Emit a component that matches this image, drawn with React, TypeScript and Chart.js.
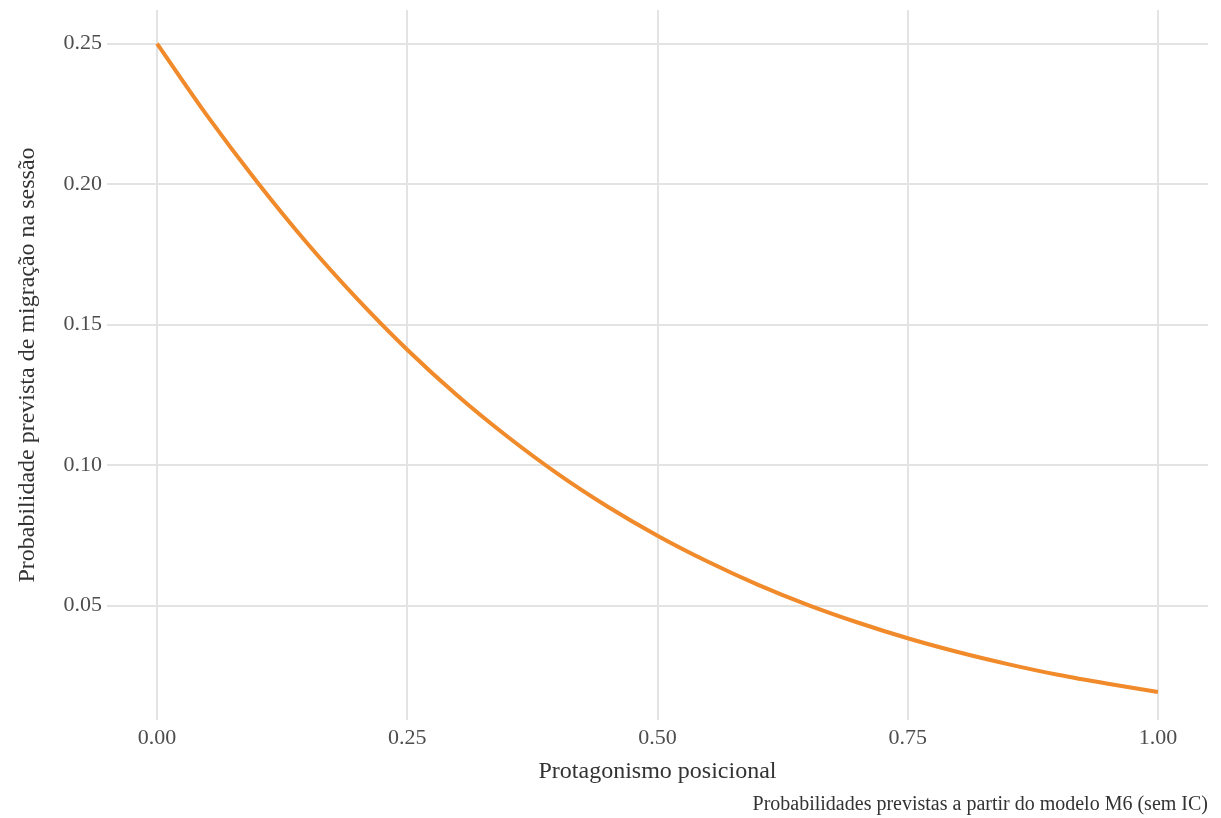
import React, { useEffect, useRef } from "react";
import { Chart, registerables } from "chart.js";

Chart.register(...registerables);

const xValues = [0, 0.05, 0.1, 0.15, 0.2, 0.25, 0.3, 0.35, 0.4, 0.45, 0.5, 0.55, 0.6, 0.65, 0.7, 0.75, 0.8, 0.85, 0.9, 0.95, 1.0];
const probValues = [0.25, 0.2244, 0.2008, 0.179, 0.1592, 0.1411, 0.1248, 0.1102, 0.097, 0.0853, 0.0749, 0.0657, 0.0575, 0.0503, 0.044, 0.0384, 0.0335, 0.0292, 0.0254, 0.0222, 0.0193];
const xTicks = [0, 0.25, 0.5, 0.75, 1.0];
const yTicks = [0.05, 0.1, 0.15, 0.2, 0.25];
const xTitle = "Protagonismo posicional";
const yTitle = "Probabilidade prevista de migração na sessão";
const caption = "Probabilidades previstas a partir do modelo M6 (sem IC)";

const FONT = "'Liberation Serif', 'DejaVu Serif', serif";

export default function App() {
  const ref = useRef<HTMLCanvasElement | null>(null);

  useEffect(() => {
    document.body.style.margin = "0";
    const canvas = ref.current;
    if (!canvas) return;

    const captionPlugin = {
      id: "captionPlugin",
      afterDraw(chart: any) {
        const ctx = chart.ctx;
        ctx.save();
        ctx.font = `20px ${FONT}`;
        ctx.fillStyle = "#333333";
        ctx.textAlign = "right";
        ctx.textBaseline = "middle";
        ctx.fillText(caption, 1208, 805);
        ctx.restore();
      },
    };

    const chart = new Chart(canvas, {
      type: "line",
      data: {
        datasets: [
          {
            data: xValues.map((x, i) => ({ x, y: probValues[i] })),
            borderColor: "#f08a2a",
            borderWidth: 4,
            pointRadius: 0,
            cubicInterpolationMode: "monotone",
            fill: false,
          },
        ],
      },
      options: {
        animation: false,
        responsive: false,
        maintainAspectRatio: false,
        layout: { padding: { top: 10, right: 13, bottom: 0, left: 0 } },
        plugins: {
          legend: { display: false },
          tooltip: { enabled: false },
        },
        scales: {
          x: {
            type: "linear",
            min: -0.05,
            max: 1.05,
            afterBuildTicks: (axis: any) => {
              axis.ticks = xTicks.map((v) => ({ value: v }));
            },
            afterFit: (axis: any) => {
              axis.height = 98;
              axis.paddingLeft = 0;
              axis.paddingRight = 0;
            },
            grid: { color: "#e3e3e3", lineWidth: 2, drawTicks: false },
            border: { display: false },
            ticks: {
              padding: 5,
              color: "#4d4d4d",
              font: { family: FONT, size: 22 },
              callback: (v: any) => Number(v).toFixed(2),
              maxRotation: 0,
            },
            title: {
              display: true,
              text: xTitle,
              color: "#333333",
              font: { family: FONT, size: 24 },
              padding: { top: 0, bottom: 32 },
            },
          },
          y: {
            type: "linear",
            min: 0.0093,
            max: 0.262,
            afterBuildTicks: (axis: any) => {
              axis.ticks = yTicks.map((v) => ({ value: v }));
            },
            afterFit: (axis: any) => {
              axis.width = 107;
              axis.paddingTop = 0;
              axis.paddingBottom = 0;
            },
            grid: { color: "#e3e3e3", lineWidth: 2, drawTicks: false },
            border: { display: false },
            ticks: {
              padding: 5,
              color: "#4d4d4d",
              font: { family: FONT, size: 22 },
              callback: (v: any) => Number(v).toFixed(2),
            },
            title: {
              display: true,
              text: yTitle,
              color: "#333333",
              font: { family: FONT, size: 24 },
              padding: { top: 13, bottom: 0 },
            },
          },
        },
      },
      plugins: [captionPlugin],
    });

    return () => chart.destroy();
  }, []);

  return (
    <div style={{ position: "relative", width: 1221, height: 818, background: "#ffffff" }}>
      <canvas ref={ref} width={1221} height={818} style={{ display: "block", width: 1221, height: 818 }} />
    </div>
  );
}
